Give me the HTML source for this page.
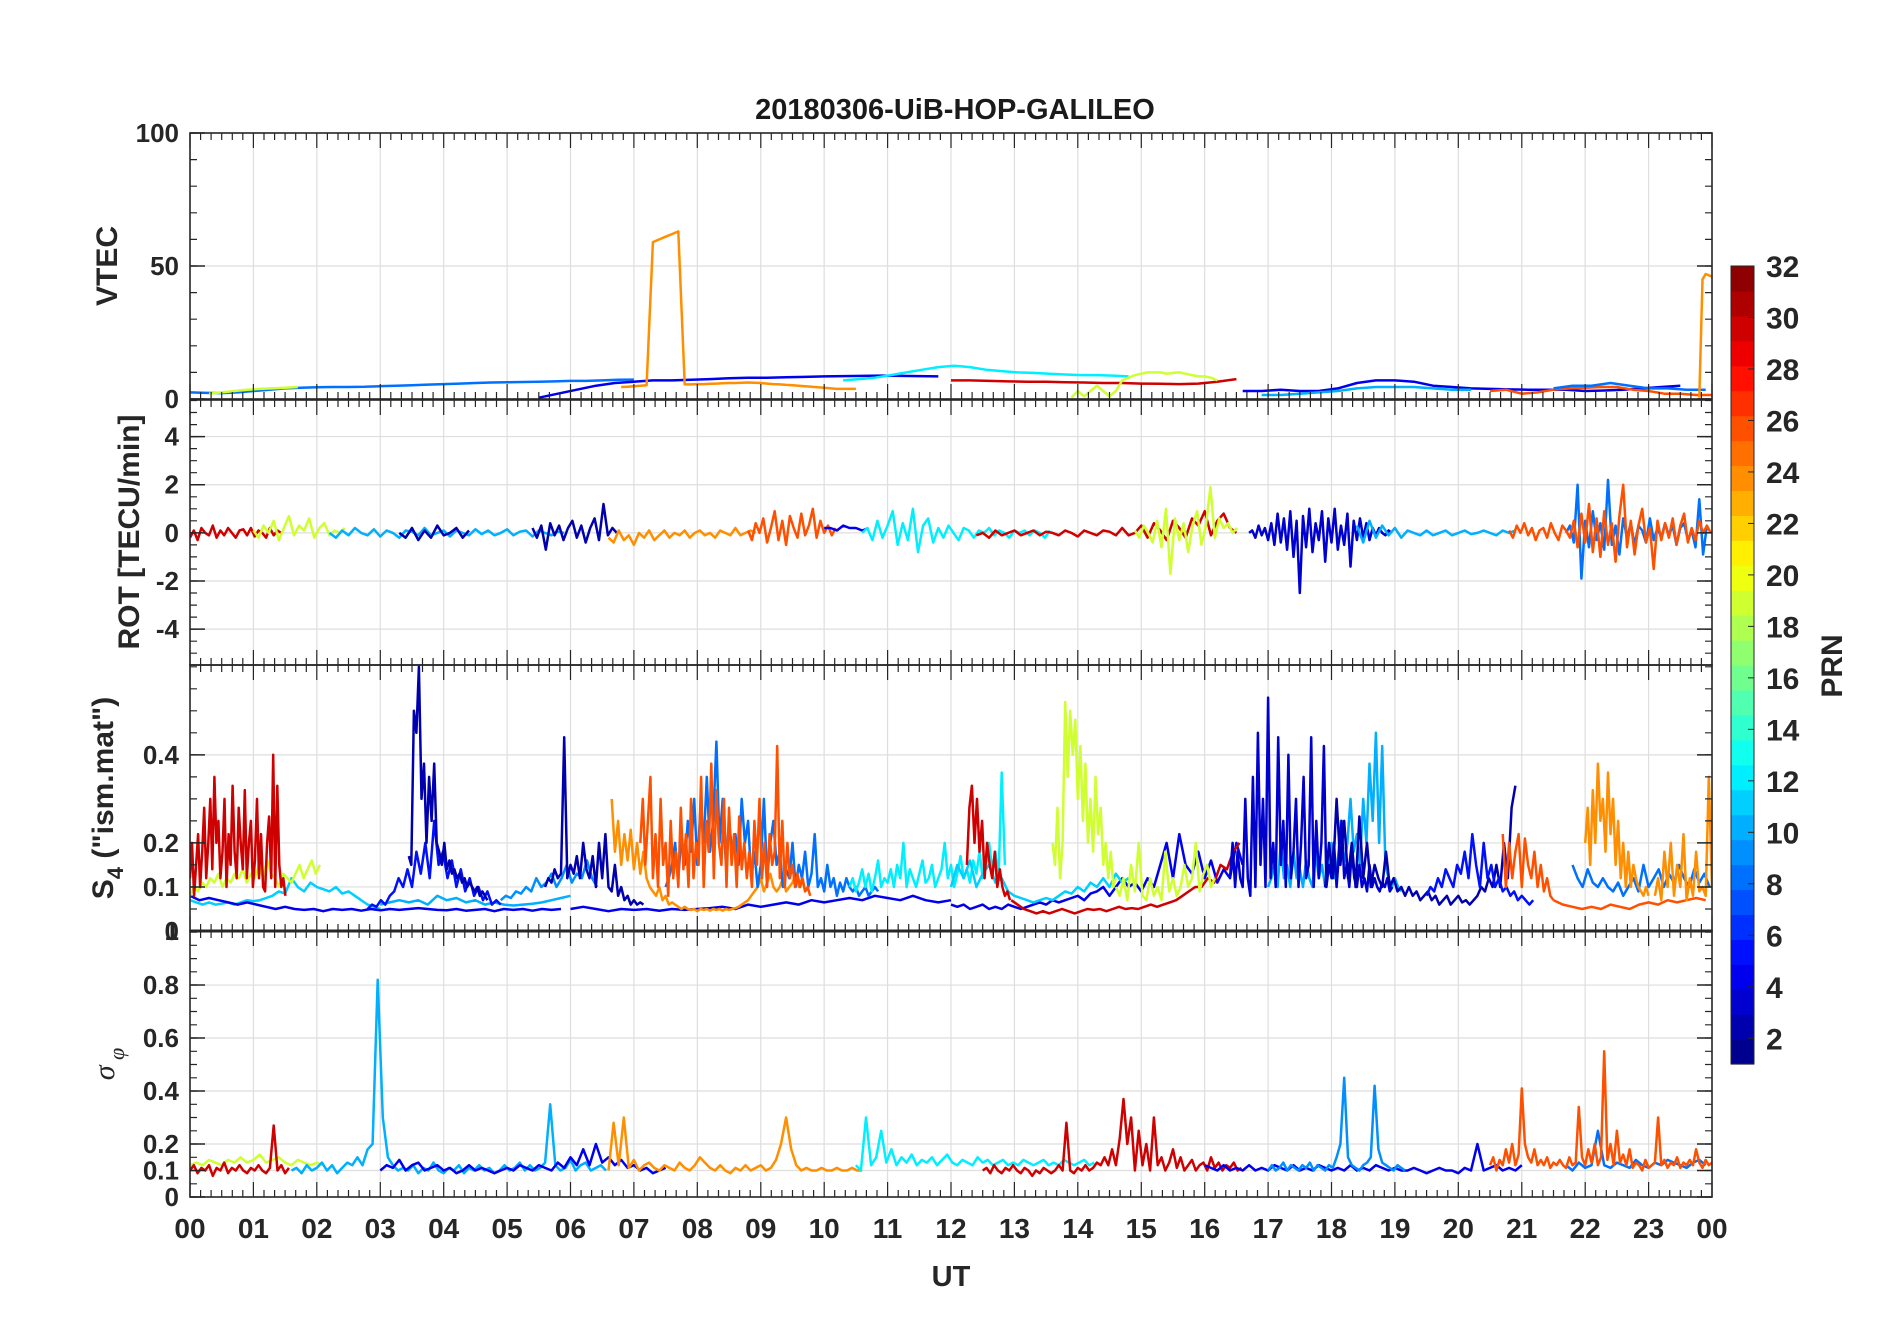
<!DOCTYPE html>
<html><head><meta charset="utf-8">
<style>
html,body{margin:0;padding:0;background:#fff;}
svg{display:block;font-family:"Liberation Sans",Arial,sans-serif;}
</style></head>
<body>
<svg id="chart" xmlns="http://www.w3.org/2000/svg" width="1902" height="1330" viewBox="0 0 1902 1330">
<rect width="1902" height="1330" fill="#fff"/>
<text x="955" y="119" text-anchor="middle" font-size="29" font-weight="bold" fill="#1a1a1a">20180306-UiB-HOP-GALILEO</text>
<g id="grid"></g><g id="traces"></g><g id="axes"></g><g id="cbar"></g>
<text x="951" y="1286" text-anchor="middle" font-size="29" font-weight="bold" fill="#262626">UT</text>
<text transform="translate(117,266) rotate(-90)" text-anchor="middle" font-size="30" font-weight="bold" fill="#262626">VTEC</text>
<text transform="translate(139,532) rotate(-90)" text-anchor="middle" font-size="30" font-weight="bold" fill="#262626">ROT [TECU/min]</text>
<text transform="translate(113,798) rotate(-90)" text-anchor="middle" font-size="30" font-weight="bold" fill="#262626">S<tspan font-size="22" dy="10">4</tspan><tspan dy="-10"> ("ism.mat")</tspan></text>
<text transform="translate(114,1064) rotate(-90)" text-anchor="middle" font-size="30" font-style="italic" font-family="Liberation Serif, serif" fill="#262626">σ<tspan font-size="22" dy="10"> φ</tspan></text>
<text transform="translate(1842,666) rotate(-90)" text-anchor="middle" font-size="30" font-weight="bold" fill="#262626">PRN</text>
</svg>
<script>
// ---------- data (hours / values) ----------
const hourTicks=["00","01","02","03","04","05","06","07","08","09","10","11","12","13","14","15","16","17","18","19","20","21","22","23","00"];
const vtecTicks=[0,50,100];
const rotTicks=[-4,-2,0,2,4];
const s4Ticks=[0,0.1,0.2,0.4];
const sigTicks=[0,0.1,0.2,0.4,0.6,0.8];
const prnTicks=[2,4,6,8,10,12,14,16,18,20,22,24,26,28,30,32];

// VTEC
const v_prn8=[2.5,2.3,2.2,2.5,3,3.5,4,4.2,4.4,4.5,4.5,4.6,4.8,5,5.2,5.4,5.6,5.8,6,6.2,6.3,6.4,6.5,6.6,6.8,6.8,7,7.2,7.3];
const v_prn19a=[2,2.5,3,3.5,3.8,4,4.2,4.5];
const v_prn4a=[0.5,2,3.5,5,6,6.5,7,7,7.2,7.5,7.8,8,8,8.2,8.3,8.5,8.6,8.7,8.8,8.7,8.6,8.5];
const v_prn24a=[4.5,4.6,4.8,5,5.2,59,60,61,62,63,5.5,5.5,5.6,5.6,5.7,5.8,5.9,6,6,6.1,6.2,6.1,6,5.8,5.6,5.5,5.3,5.2,5.0,4.8,4.6,4.4,4.2,4.0,3.8,3.8,3.8,3.8];
const v_prn12=[7,7.5,8,9,10,11,12,12.5,12,11,10.5,10,9.8,9.5,9.2,9,9,8.8,8.5];
const v_prn30=[7,7,6.8,6.6,6.5,6.5,6.3,6.2,6,6,5.8,5.7,5.6,5.8,6.5,7.5];
const v_prn19b=[0.5,3,1,3,5,3,1,3,7,8,9,9.5,10,10,10,9.5,9.8,10,9.5,9,8.5,8.5,8,7];
const v_prn4b=[3,3,3.5,3,3,4,6,7,7,6.5,5,4.5,4,3.8,3.6,3.5,3.5,3.5,3,3.2,3.5,4,4.5,5];
const v_prn10=[1.5,1.5,2,2.5,3,4,4.5,4.5,4.5,4,3.5,3.5];
const v_prn26=[3,3.5,2,2.5,3.5,4,4.2,4.5,4.5,3.5,3,2,2,1.5,1.5];
const v_prn24b=[0.5,45,47,46.5,46];
const v_prn8b=[4,5,5,6,5,4,4,3.5,3.5];

// ROT
const r_prn30a=[-0.2,0.1,-0.3,0.2,0,-0.1,0.3,-0.2,0.1,-0.1,0.2,0,-0.2,0.1,0.15,-0.1,0.2,-0.15,0.1,0,-0.2,0.2,-0.1,0.1,0];
const r_prn19a=[0.1,-0.2,0.3,0,0.5,-0.3,0.2,0.7,-0.1,0.3,0.1,0.6,-0.2,0.2,0.4,-0.1,0.1,0,0.2];
const r_prn10a=[0,-0.2,0.1,-0.1,0.2,0,-0.1,0.15,-0.15,0.1,0,-0.2,0.1,0.05,-0.1,0.2,-0.1,0,0.1,-0.15,0.1,0,-0.1,0.15,-0.05,0.1,-0.1,0,0.15,-0.1,0.05,0.1,-0.15,0.1,0,-0.1,0.05,0];
const r_prn2a=[0,-0.2,0.2,-0.3,0.1,-0.2,0.3,-0.1,0,0.2,-0.2,0.1];
const r_prn2b=[0.2,-0.2,0.3,-0.7,0.4,-0.1,0.3,-0.3,0.2,0.5,-0.2,0.3,-0.4,0.2,0.6,-0.3,1.2,-0.1,0.2,0];
const r_prn24=[-0.2,-0.4,0.1,-0.3,-0.1,-0.5,0,-0.2,0.1,-0.3,-0.1,0.1,-0.2,0,-0.1,0.1,-0.2,0,0.1,-0.1,0,-0.2,0.1,0,-0.1,0.2,-0.1,0,0.1,0];
const r_prn26a=[0.1,-0.3,0.4,0,0.6,-0.4,0.2,0.9,-0.3,0.5,-0.5,0.7,0.2,-0.2,0.8,-0.1,0.3,1.0,-0.2,0.5,0,0.3,-0.1,0.2];
const r_prn4=[0.2,0.2,0.1,0.3,0.2,0.2,0.1,0.2];
const r_prn12=[0,0.2,-0.3,0.5,-0.2,0.3,0.9,-0.5,0.4,-0.3,1.0,-0.8,0.3,0.6,-0.4,0.2,-0.2,0.3,0,-0.3,0.2,0.1,-0.2,0.1,0,0.2,-0.1,0.1,0,-0.2,0.1,0,0.1,-0.1,0.1,0,-0.2,0.1];
const r_prn30b=[-0.1,0,-0.2,0.1,-0.1,0,0.1,-0.1,0,0.1,-0.1,0.05,0,-0.1,0.1,0,-0.15,0.1,0,-0.1,0.1,0.05,-0.1,0.2,-0.1,0,0.3,-0.2,0.4,0.1,-0.3,0.5,0.2,-0.2,0.6,0.3,0.9,-0.1,0.5,0.8,0.2,0];
const r_prn19b=[0.1,-0.2,0.3,0,-0.4,0.5,-0.6,1.0,-1.7,0.6,-0.3,0.4,-0.8,0.3,0.9,-0.5,0.3,1.9,-0.2,0.6,0.2,0.4,0,0.2];
const r_prn3=[0,0.1,-0.2,0.3,-0.1,0.2,-0.3,0.4,-0.5,0.8,-0.4,0.6,-0.7,0.9,-1.0,0.5,-2.5,0.7,-0.6,1.0,-0.8,0.4,-0.3,0.9,-1.2,0.6,-0.4,1.0,-0.7,0.3,-0.5,0.8,-1.4,0.5,-0.3,0.6,-0.2,0.4,-0.3,0.2,-0.1,0.2,0,-0.1,0.1,0];
const r_prn10b=[0.3,-0.4,0.5,-0.2,0.3,-0.1,0.2,-0.2,0.1,0,-0.1,0.1,-0.1,0,0.1,-0.1,0,0.1,-0.05,0,0.1,0,-0.1,0.1,0,0.1];
const r_prn26b=[0.1,-0.2,0.3,0,0.4,-0.1,0.2,-0.3,0.1,0.2,-0.2,0.4,0,-0.3,0.3,0.1,-0.2,0.5,-0.6,0.8,-0.4,1.2,-0.8,0.6,-1.0,0.9,-0.5,0.4,-1.2,0.7,2.0,-0.6,0.5,-0.9,0.3,1.0,-0.4,0.2,-1.5,0.5,-0.3,0.4,-0.2,0.6,-0.5,0.3,0.8,-0.4,0.2,-0.3,0.5,0,0.3,0];
const r_prn8=[0,0.3,-0.4,2.0,-1.9,0.5,-0.6,0.9,-0.3,0.4,-0.7,2.2,-0.5,0.3,-0.9,0.6,-0.2,0.4,-0.5,0.3,0.1,-0.4,0.6,-0.3,0.2,-0.2,0.4,-0.1,0.3,-0.5,0.2,0.4,-0.3,0.1,-0.6,1.4,-0.9,0.3];

// S4
const s_prn30a=[0.12,0.2,0.08,0.15,0.22,0.1,0.18,0.28,0.12,0.2,0.3,0.14,0.35,0.2,0.25,0.12,0.18,0.3,0.1,0.22,0.15,0.33,0.18,0.12,0.28,0.2,0.14,0.32,0.12,0.2,0.25,0.1,0.16,0.3,0.12,0.22,0.1,0.09,0.2,0.26,0.12,0.4,0.1,0.33,0.15,0.1,0.12,0.08];
const s_prn19a=[0.08,0.1,0.09,0.11,0.1,0.12,0.11,0.13,0.1,0.12,0.11,0.13,0.12,0.14,0.11,0.13,0.12,0.15,0.12,0.16,0.13,0.12,0.1,0.13,0.12,0.11,0.13,0.15,0.12,0.14,0.16,0.13,0.15];
const s_prn11a=[0.07,0.065,0.06,0.065,0.06,0.062,0.065,0.06,0.065,0.07,0.068,0.07,0.075,0.08,0.09,0.085,0.12,0.1,0.09,0.11,0.1,0.095,0.09,0.1,0.085,0.09,0.08,0.07,0.06,0.055,0.05];
const s_prn4a=[0.08,0.07,0.075,0.07,0.065,0.06,0.065,0.06,0.055,0.05,0.055,0.05,0.048,0.05,0.045,0.05,0.048,0.05,0.046,0.05,0.047,0.05,0.048,0.05,0.052,0.05,0.048,0.047,0.05,0.046,0.048,0.05,0.045,0.05,0.048,0.05,0.046,0.05,0.048,0.05];
const s_prn2a=[0.17,0.15,0.5,0.45,0.6,0.3,0.38,0.2,0.35,0.25,0.38,0.2,0.18,0.15,0.2,0.14,0.16,0.13,0.14,0.12,0.13,0.11,0.12,0.1,0.11,0.1,0.09,0.1,0.08,0.09,0.08,0.07];
const s_prn5a=[0.05,0.06,0.055,0.07,0.06,0.08,0.09,0.12,0.1,0.14,0.1,0.18,0.13,0.2,0.12,0.25,0.15,0.18,0.12,0.16,0.1,0.14,0.09,0.12,0.08,0.1,0.07,0.09,0.06,0.07,0.06];
const s_prn10a=[0.06,0.065,0.07,0.065,0.07,0.06,0.08,0.07,0.075,0.065,0.07,0.06,0.065,0.06,0.058,0.06,0.062,0.065,0.07,0.075,0.08];
const s_prn9a=[0.07,0.08,0.075,0.09,0.085,0.1,0.09,0.12,0.1,0.11,0.13,0.1,0.12,0.15,0.11,0.13,0.12,0.16,0.12,0.1];
const s_prn2b=[0.1,0.12,0.11,0.14,0.12,0.13,0.44,0.12,0.15,0.13,0.17,0.12,0.2,0.14,0.12,0.17,0.1,0.2,0.12,0.22,0.1,0.09,0.15,0.08,0.1,0.07,0.08,0.06,0.07,0.06,0.065,0.06];
const s_prn24a=[0.3,0.18,0.25,0.15,0.22,0.16,0.23,0.14,0.2,0.13,0.18,0.12,0.1,0.09,0.08,0.1,0.07,0.08,0.06,0.065,0.06,0.055,0.05,0.055,0.05,0.048,0.05,0.045,0.05,0.048,0.05,0.046,0.05,0.048,0.05,0.046,0.05,0.048,0.05,0.052,0.055,0.06,0.065,0.07,0.08,0.09,0.1,0.12,0.09,0.11,0.13,0.1,0.09,0.1,0.12,0.09,0.1,0.11,0.13,0.1,0.12,0.09,0.1];
const s_prn26a=[0.2,0.3,0.15,0.25,0.35,0.12,0.22,0.1,0.3,0.15,0.2,0.08,0.25,0.12,0.18,0.1,0.28,0.14,0.22,0.1,0.3,0.12,0.2,0.15,0.35,0.1,0.25,0.18,0.38,0.12,0.32,0.2,0.15,0.3,0.1,0.28,0.15,0.22,0.1,0.26,0.14,0.2,0.12,0.18,0.1,0.25,0.15,0.3,0.12,0.2,0.1,0.22,0.15,0.18,0.42,0.12,0.25,0.1,0.2,0.12,0.15,0.1,0.13,0.1,0.12,0.09,0.1,0.08];
const s_prn8a=[0.1,0.12,0.15,0.2,0.12,0.22,0.15,0.25,0.18,0.3,0.15,0.28,0.2,0.35,0.18,0.25,0.43,0.2,0.3,0.15,0.25,0.18,0.22,0.15,0.3,0.2,0.25,0.12,0.18,0.1,0.15,0.3,0.12,0.2,0.25,0.15,0.18,0.1,0.14,0.12,0.2,0.1,0.15,0.12,0.18,0.1,0.13,0.22,0.1,0.12,0.09,0.15,0.1,0.12,0.08,0.11,0.09,0.12,0.1,0.09,0.1,0.08,0.09,0.1,0.08,0.09,0.1,0.09];
const s_prn4b=[0.05,0.055,0.05,0.045,0.05,0.048,0.05,0.046,0.05,0.048,0.05,0.052,0.055,0.05,0.06,0.055,0.06,0.065,0.06,0.07,0.065,0.07,0.075,0.07,0.08,0.075,0.07,0.08,0.07,0.065,0.07];
const s_prn12a=[0.1,0.12,0.09,0.11,0.14,0.1,0.13,0.09,0.12,0.16,0.1,0.12,0.11,0.14,0.1,0.15,0.12,0.2,0.1,0.14,0.12,0.1,0.13,0.16,0.11,0.12,0.15,0.1,0.12,0.14,0.2,0.12,0.15,0.1,0.13,0.17,0.12,0.14,0.11,0.16,0.13,0.18,0.12,0.15,0.2,0.14,0.18,0.12,0.36,0.15];
const s_prn30b=[0.15,0.28,0.33,0.2,0.3,0.18,0.25,0.12,0.2,0.15,0.12,0.18,0.1,0.14,0.1,0.08,0.09,0.07];
const s_prn30c=[0.07,0.06,0.05,0.045,0.04,0.045,0.04,0.045,0.05,0.045,0.04,0.045,0.05,0.048,0.05,0.045,0.05,0.055,0.05,0.052,0.05,0.055,0.06,0.055,0.06,0.065,0.07,0.08,0.09,0.1,0.1,0.12,0.11,0.15,0.14,0.18,0.2];
const s_prn11b=[0.1,0.15,0.12,0.16,0.1,0.13,0.15,0.11,0.12,0.09,0.08,0.075,0.07,0.065,0.07,0.075,0.07,0.08,0.09,0.085,0.1,0.09,0.11,0.1,0.12,0.1,0.13,0.11,0.12];
const s_prn19b=[0.2,0.15,0.28,0.12,0.2,0.52,0.35,0.5,0.4,0.48,0.3,0.42,0.25,0.38,0.2,0.3,0.18,0.35,0.22,0.28,0.15,0.2,0.12,0.18,0.1,0.12];
const s_prn19c=[0.1,0.08,0.12,0.07,0.15,0.09,0.2,0.08,0.07,0.12,0.08,0.1,0.07,0.18,0.09,0.12,0.08,0.1,0.15,0.1,0.12,0.2,0.09,0.13,0.15,0.1,0.12];
const s_prn4c=[0.06,0.055,0.06,0.05,0.055,0.06,0.05,0.055,0.05,0.06,0.055,0.05,0.055,0.06,0.065,0.06,0.07,0.065,0.07,0.075,0.08,0.07,0.085,0.09,0.1,0.08,0.1,0.12,0.1,0.11,0.09,0.12,0.1,0.15,0.2,0.12,0.22,0.15,0.13,0.18,0.12,0.16,0.11,0.14,0.12,0.2,0.15];
const s_prn3=[0.12,0.2,0.1,0.18,0.12,0.1,0.3,0.12,0.08,0.35,0.1,0.45,0.15,0.3,0.1,0.53,0.12,0.2,0.1,0.44,0.15,0.25,0.1,0.4,0.12,0.18,0.3,0.1,0.2,0.35,0.12,0.15,0.44,0.1,0.25,0.12,0.2,0.42,0.1,0.15,0.12,0.2,0.1,0.18,0.25,0.12,0.15,0.1,0.18,0.12,0.1,0.15,0.1,0.12,0.09,0.15,0.1,0.12,0.1,0.09,0.11,0.1,0.12,0.09,0.1];
const s_prn10b=[0.1,0.12,0.15,0.1,0.2,0.12,0.15,0.1,0.18,0.12,0.14,0.1,0.16,0.12,0.1,0.18,0.12,0.15,0.1,0.14,0.2,0.12,0.16,0.25,0.15,0.2,0.3,0.18,0.22,0.15,0.3,0.2,0.38,0.25,0.45,0.2,0.42,0.15,0.12,0.1,0.12,0.1,0.09];
const s_prn2c=[0.1,0.2,0.12,0.3,0.15,0.25,0.12,0.2,0.1,0.26,0.12,0.2,0.1,0.15,0.12,0.1,0.18,0.1,0.12,0.09,0.1,0.08,0.1,0.08,0.09,0.07,0.08,0.09,0.07,0.08,0.06,0.07,0.08,0.06,0.07,0.08,0.065,0.07,0.06,0.07,0.08,0.1,0.09,0.12,0.1,0.15,0.1,0.2,0.12,0.28,0.33];
const s_prn5b=[0.08,0.1,0.09,0.12,0.1,0.14,0.12,0.1,0.15,0.13,0.18,0.12,0.22,0.15,0.1,0.2,0.12,0.15,0.1,0.12,0.09,0.1,0.08,0.09,0.07,0.08,0.07,0.06,0.07];
const s_prn26b=[0.22,0.1,0.2,0.12,0.18,0.22,0.1,0.21,0.15,0.12,0.18,0.1,0.15,0.09,0.12,0.08,0.07];
const s_prn26c=[0.07,0.06,0.055,0.05,0.055,0.05,0.06,0.055,0.05,0.06,0.065,0.06,0.07,0.065,0.07,0.075,0.07];
const s_prn24b=[0.2,0.28,0.15,0.32,0.2,0.38,0.25,0.3,0.18,0.36,0.22,0.3,0.15,0.25,0.12,0.2,0.1,0.18,0.1,0.15,0.12,0.1,0.09,0.08,0.1,0.08];
const s_prn24c=[0.08,0.12,0.07,0.18,0.1,0.2,0.08,0.15,0.1,0.22,0.07,0.12,0.08,0.18,0.09,0.1,0.08,0.35,0.1];
const s_prn8b=[0.15,0.12,0.1,0.14,0.11,0.1,0.12,0.1,0.09,0.11,0.08,0.1,0.12,0.09,0.15,0.1,0.12,0.14,0.1,0.13,0.11,0.15,0.12,0.1,0.14,0.11,0.13,0.1];

// sigma phi
const g_prn19=[0.12,0.13,0.12,0.14,0.13,0.12,0.14,0.13,0.15,0.13,0.14,0.16,0.13,0.14,0.15,0.13,0.12,0.14,0.13,0.12,0.13,0.12];
const g_prn30a=[0.1,0.12,0.09,0.11,0.1,0.12,0.08,0.11,0.1,0.13,0.09,0.11,0.1,0.12,0.1,0.09,0.11,0.1,0.12,0.1,0.09,0.11,0.27,0.1,0.12,0.09,0.11];
const g_prn10=[0.1,0.11,0.09,0.12,0.1,0.11,0.13,0.1,0.12,0.09,0.11,0.13,0.12,0.15,0.12,0.18,0.2,0.82,0.3,0.15,0.12,0.1,0.11,0.1,0.12,0.09,0.11,0.1,0.13,0.1,0.09,0.11,0.1,0.12,0.09,0.11,0.1,0.12,0.1,0.11,0.09,0.1,0.12,0.1,0.11,0.13,0.1,0.12,0.1,0.11,0.13,0.35,0.12,0.1,0.11,0.14,0.1,0.12,0.13,0.1,0.11,0.12,0.1];
const g_prn4a=[0.1,0.12,0.11,0.14,0.1,0.12,0.13,0.1,0.11,0.12,0.1,0.11,0.09,0.1,0.12,0.1,0.11,0.1,0.09,0.1,0.11,0.1,0.12,0.11,0.1,0.12,0.11,0.1,0.13,0.11,0.15,0.12,0.18,0.12,0.2,0.13,0.15,0.12,0.14,0.11,0.12,0.1,0.11,0.09,0.1,0.11];
const g_prn24=[0.1,0.28,0.12,0.3,0.11,0.14,0.1,0.12,0.13,0.11,0.1,0.12,0.11,0.1,0.13,0.11,0.1,0.12,0.15,0.13,0.11,0.1,0.12,0.1,0.09,0.11,0.1,0.12,0.1,0.11,0.12,0.1,0.11,0.14,0.2,0.3,0.18,0.12,0.1,0.11,0.1,0.1,0.11,0.1,0.1,0.11,0.1,0.1,0.11,0.1,0.1];
const g_prn12=[0.12,0.1,0.3,0.12,0.15,0.25,0.13,0.18,0.12,0.15,0.13,0.16,0.12,0.14,0.13,0.15,0.12,0.14,0.16,0.13,0.12,0.14,0.13,0.12,0.15,0.13,0.14,0.12,0.13,0.14,0.12,0.13,0.12,0.14,0.13,0.12,0.13,0.14,0.12,0.13,0.12,0.14,0.13,0.12,0.13,0.14,0.12,0.13];
const g_prn30b=[0.1,0.11,0.09,0.12,0.1,0.09,0.11,0.1,0.12,0.1,0.09,0.11,0.1,0.08,0.1,0.09,0.11,0.1,0.09,0.1,0.12,0.1,0.28,0.1,0.09,0.11,0.1,0.12,0.1,0.11,0.13,0.12,0.15,0.12,0.18,0.12,0.22,0.37,0.2,0.3,0.1,0.25,0.12,0.2,0.1,0.3,0.12,0.15,0.1,0.13,0.18,0.11,0.15,0.1,0.12,0.14,0.1,0.12,0.13,0.1,0.15,0.11,0.13,0.1,0.12,0.11,0.13,0.1,0.11];
const g_prn4b=[0.12,0.11,0.1,0.12,0.1,0.11,0.1,0.12,0.1,0.11,0.1,0.12,0.11,0.1,0.12,0.1,0.11,0.1,0.12,0.11,0.1,0.11,0.1,0.12,0.1,0.11,0.1,0.12,0.11,0.1,0.11,0.1,0.1,0.11,0.1,0.09,0.1,0.11,0.1,0.1,0.09,0.11,0.1,0.2,0.1,0.11,0.12,0.1,0.11,0.1,0.12];
const g_prn9=[0.1,0.12,0.1,0.11,0.13,0.1,0.12,0.11,0.1,0.12,0.11,0.13,0.1,0.12,0.11,0.1,0.12,0.11,0.15,0.2,0.45,0.15,0.12,0.11,0.1,0.12,0.13,0.15,0.42,0.18,0.13,0.12,0.11,0.1,0.12,0.11,0.1];
const g_prn26=[0.12,0.15,0.1,0.14,0.12,0.18,0.13,0.2,0.12,0.16,0.41,0.2,0.15,0.13,0.18,0.12,0.14,0.12,0.15,0.11,0.13,0.12,0.14,0.12,0.11,0.15,0.12,0.13,0.34,0.15,0.12,0.18,0.13,0.2,0.12,0.15,0.55,0.14,0.2,0.12,0.25,0.13,0.16,0.12,0.18,0.11,0.13,0.12,0.1,0.14,0.11,0.12,0.13,0.3,0.12,0.14,0.11,0.13,0.12,0.15,0.11,0.13,0.12,0.14,0.12,0.18,0.13,0.11,0.14,0.12,0.13];
const g_prn8=[0.12,0.1,0.13,0.11,0.12,0.25,0.12,0.11,0.13,0.12,0.11,0.14,0.12,0.11,0.13,0.12,0.14,0.13,0.12,0.11,0.13,0.14,0.12];

// series registry: [panel, prn, start hour, step hours, values]
const seriesList=[
 ["vtec",8,0,0.25,v_prn8],["vtec",19,0.3,0.2,v_prn19a],["vtec",4,5.5,0.3,v_prn4a],["vtec",24,6.8,0.1,v_prn24a],
 ["vtec",12,10.3,0.25,v_prn12],["vtec",30,12,0.3,v_prn30],["vtec",19,13.9,0.1,v_prn19b],["vtec",4,16.6,0.3,v_prn4b],
 ["vtec",10,16.9,0.3,v_prn10],["vtec",26,20.5,0.25,v_prn26],["vtec",8,21.5,0.3,v_prn8b],["vtec",24,23.8,0.05,v_prn24b],
 ["rot",30,0,0.06,r_prn30a],["rot",19,1.0,0.08,r_prn19a],["rot",10,2.2,0.1,r_prn10a],["rot",2,3.3,0.1,r_prn2a],
 ["rot",2,5.4,0.07,r_prn2b],["rot",24,6.6,0.08,r_prn24],["rot",26,8.8,0.06,r_prn26a],["rot",4,10,0.1,r_prn4],
 ["rot",12,10.6,0.08,r_prn12],["rot",30,12.4,0.1,r_prn30b],["rot",19,14.9,0.07,r_prn19b],["rot",3,16.7,0.05,r_prn3],
 ["rot",10,18.4,0.1,r_prn10b],["rot",8,21.7,0.06,r_prn8],["rot",26,20.8,0.06,r_prn26b],
 ["s4",11,0,0.1,s_prn11a],["s4",4,0,0.15,s_prn4a],["s4",19,0,0.064,s_prn19a],["s4",30,0,0.032,s_prn30a],
 ["s4",10,3,0.15,s_prn10a],["s4",5,2.8,0.07,s_prn5a],["s4",2,3.45,0.04,s_prn2a],["s4",9,4.9,0.08,s_prn9a],
 ["s4",2,5.6,0.05,s_prn2b],["s4",4,6,0.2,s_prn4b],["s4",24,6.65,0.05,s_prn24a],["s4",8,7.5,0.05,s_prn8a],
 ["s4",26,7.1,0.04,s_prn26a],["s4",12,10.4,0.05,s_prn12a],["s4",4,12,0.1,s_prn4c],["s4",11,12,0.1,s_prn11b],
 ["s4",30,12.25,0.04,s_prn30b],["s4",30,12.95,0.1,s_prn30c],["s4",19,13.6,0.04,s_prn19b],["s4",19,14.6,0.06,s_prn19c],
 ["s4",10,17,0.05,s_prn10b],["s4",3,16.4,0.04,s_prn3],["s4",2,17.9,0.06,s_prn2c],["s4",5,19.5,0.06,s_prn5b],
 ["s4",26,20.7,0.05,s_prn26b],["s4",26,21.5,0.15,s_prn26c],["s4",8,21.8,0.08,s_prn8b],["s4",24,22,0.04,s_prn24b],["s4",24,23.1,0.05,s_prn24c],
 ["sig",19,0,0.1,g_prn19],["sig",30,0,0.06,g_prn30a],["sig",10,1.6,0.08,g_prn10],["sig",4,3,0.1,g_prn4a],
 ["sig",24,6.6,0.08,g_prn24],["sig",12,10.5,0.08,g_prn12],["sig",30,12.5,0.06,g_prn30b],["sig",4,16,0.1,g_prn4b],
 ["sig",9,17,0.06,g_prn9],["sig",8,21.7,0.1,g_prn8],["sig",26,20.5,0.05,g_prn26]
];

// ---------- layout ----------
const X0=190,X1=1712;
const panels={
 vtec:{top:133,bot:399,min:0,max:100,ticks:vtecTicks,minor:10,name:"vtec"},
 rot:{top:400,bot:665,min:-5.49,max:5.52,ticks:rotTicks,minor:0.5,name:"rot"},
 s4:{top:665,bot:931,min:0,max:0.604,ticks:s4Ticks,minor:0.05,name:"s4"},
 sig:{top:931,bot:1197,min:0,max:1.004,ticks:sigTicks,minor:0.05,name:"sigma-phi"}
};
const xScale=h=>X0+h*(X1-X0)/24;
const yScale=(p,v)=>p.bot-(v-p.min)/(p.max-p.min)*(p.bot-p.top);
function jet(t){const c=x=>Math.round(255*Math.max(0,Math.min(1,x)));
 return `rgb(${c(1.5-Math.abs(4*t-3))},${c(1.5-Math.abs(4*t-2))},${c(1.5-Math.abs(4*t-1))})`;}
const prnColor=p=>jet((Math.floor((p-1)*32/31.0001)+0.5)/32);

const NS="http://www.w3.org/2000/svg";
function mk(tag,attrs,parent){const e=document.createElementNS(NS,tag);for(const k in attrs)e.setAttribute(k,attrs[k]);parent.appendChild(e);return e;}
const svg=document.getElementById("chart");
const gGrid=document.getElementById("grid"),gTr=document.getElementById("traces"),gAx=document.getElementById("axes"),gCb=document.getElementById("cbar");
const defs=mk("defs",{},svg);
const INK="#262626";

for(const key in panels){
 const p=panels[key];
 const cp=mk("clipPath",{id:"clip-"+key},defs);
 mk("rect",{x:X0,y:p.top,width:X1-X0,height:p.bot-p.top},cp);
 for(let h=1;h<24;h++){
  const l=mk("line",{x1:xScale(h),x2:xScale(h),y1:p.top,y2:p.bot,stroke:"#dedede","stroke-width":1.2},gGrid);
  
  
 }
 p.ticks.forEach(v=>{
  const y=yScale(p,v);
  const l=mk("line",{x1:X0,x2:X1,y1:y,y2:y,stroke:"#dedede","stroke-width":1.2},gGrid);
  
  
  const tk=mk("path",{d:`M${X0},${y}h15M${X1},${y}h-15`,stroke:INK,"stroke-width":1.5},gAx);
  
  
  const t=mk("text",{x:X0-11,y:y+9,"text-anchor":"end","font-size":26,"font-weight":"bold",fill:INK},gAx);
  t.textContent=String(v);
  
  
 });
 let d="";
 for(let v=Math.ceil(p.min/p.minor)*p.minor;v<=p.max+1e-9;v+=p.minor){const y=yScale(p,v).toFixed(1);d+=`M${X0},${y}h7M${X1},${y}h-7`;}
 const mn=mk("path",{d:d,stroke:INK,"stroke-width":1.2},gAx);
 
 
 let dx="";
 for(let i=0;i<=144;i++){const x=xScale(i/6).toFixed(1);const L=(i%6===0)?15:7;dx+=`M${x},${p.top}v${L}M${x},${p.bot}v-${L}`;}
 const xt=mk("path",{d:dx,stroke:INK,"stroke-width":1.2},gAx);
 
 
 const box=mk("rect",{x:X0,y:p.top,width:X1-X0,height:p.bot-p.top,fill:"none",stroke:INK,"stroke-width":1.6},gAx);
 
 
}
const ov=mk("text",{x:X0-11,y:panels.sig.top+9,"text-anchor":"end","font-size":26,"font-weight":"bold",fill:INK},gAx);
ov.textContent="1";


const thick=mk("line",{x1:X0,x2:X1,y1:panels.s4.bot,y2:panels.s4.bot,stroke:INK,"stroke-width":3},gAx);



hourTicks.forEach((lab,i)=>{
 const t=mk("text",{x:xScale(i),y:1238,"text-anchor":"middle","font-size":28,"font-weight":"bold",fill:INK},gAx);
 t.textContent=lab;
 
 
});

seriesList.forEach(s=>{
 const p=panels[s[0]],prn=s[1],t0=s[2],dt=s[3],vals=s[4];
 const pts=vals.map((v,i)=>xScale(t0+i*dt).toFixed(1)+","+yScale(p,v).toFixed(1)).join(" ");
 const pl=mk("polyline",{points:pts,fill:"none",stroke:prnColor(prn),"stroke-width":2.5,"stroke-linejoin":"round","clip-path":`url(#clip-${s[0]})`},gTr);
 
 
});

const CB={x:1731,w:23,top:266,bot:1064,min:1,max:32};
const cbY=v=>CB.bot-(v-CB.min)/(CB.max-CB.min)*(CB.bot-CB.top);
for(let i=0;i<32;i++){
 const hgt=(CB.bot-CB.top)/32;
 const r=mk("rect",{x:CB.x,y:(CB.bot-(i+1)*hgt).toFixed(2),width:CB.w,height:(hgt+0.6).toFixed(2),fill:jet((i+0.5)/32)},gCb);
 
 
}
const cbf=mk("rect",{x:CB.x,y:CB.top,width:CB.w,height:CB.bot-CB.top,fill:"none",stroke:INK,"stroke-width":1},gCb);


prnTicks.forEach(v=>{
 const y=cbY(v);
 const tk=mk("line",{x1:CB.x+CB.w-6,x2:CB.x+CB.w,y1:y,y2:y,stroke:INK,"stroke-width":1},gCb);
 
 
 const t=mk("text",{x:1766,y:y+11,"font-size":30,"font-weight":"bold",fill:INK},gCb);
 t.textContent=String(v);
 
 
});
</script>
</body></html>
